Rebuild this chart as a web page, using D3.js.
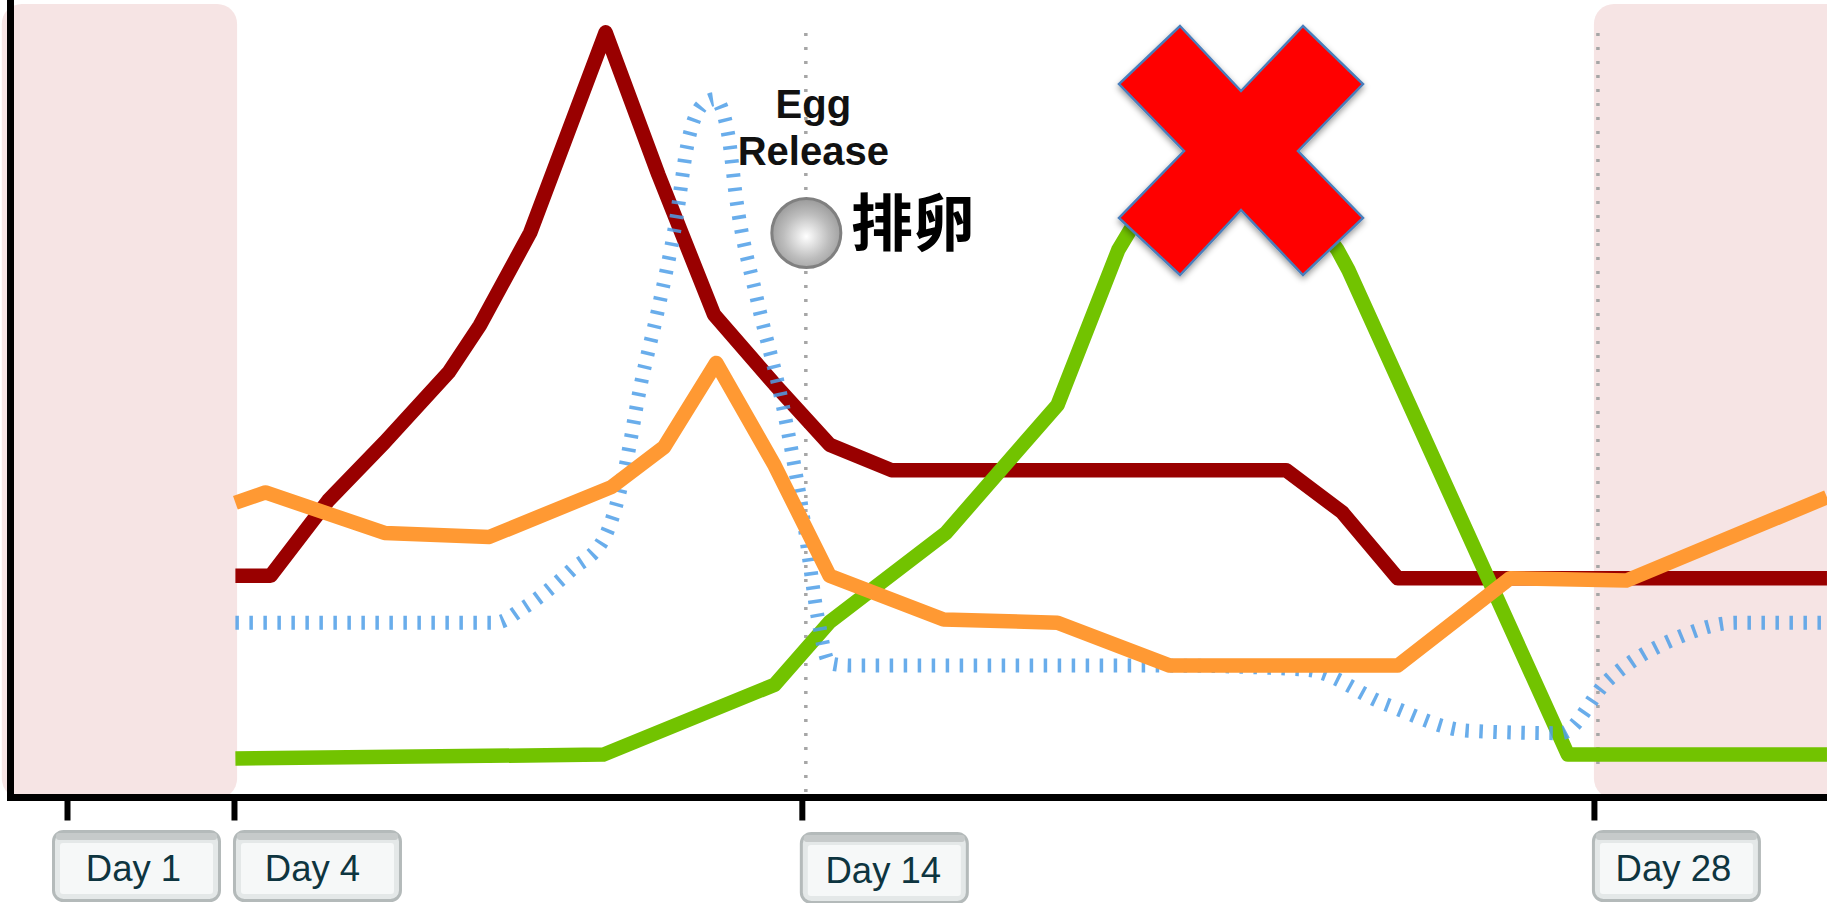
<!DOCTYPE html>
<html lang="zh">
<head>
<meta charset="utf-8">
<title>Hormone cycle</title>
<script src="https://cdn.jsdelivr.net/npm/d3@7"></script>
<style>
html,body{margin:0;padding:0;background:#fff;overflow:hidden}
svg{display:block}
</style>
</head>
<body>
<svg id="chart" width="1827" height="903"></svg>
<script>
// ---- data ----
const tickDays = [1, 3.945, 13.96, 27.93];
const tickLabels = ["Day 1", "Day 4", "Day 14", "Day 28"];
const periodBands = [[-0.15, 4.0], [27.93, 33]];

const redDays = [3.97,4.59,5.61,6.60,7.73,8.28,9.17,10.50,11.43,12.41,13.48,14.45,15.54,22.5,23.49,24.47,32.04];
const redLevels = [27.9,27.9,37.4,44.7,53.5,59.4,71.1,96.3,78.4,60.8,52.0,44.4,41.2,41.2,35.9,27.6,27.6];

const orangeDays = [3.97,4.50,6.60,8.45,10.61,11.53,12.45,13.48,14.45,16.46,18.47,20.45,24.47,26.45,28.50,32.04];
const orangeLevels = [37.1,38.4,33.3,32.8,39.1,44.1,54.7,41.8,27.9,22.4,22.0,16.6,16.6,27.6,27.3,37.8];

const greenDays = [3.97,10.46,13.48,14.45,16.50,18.47,19.54,19.85,21.08,22.21,23.41,23.60,27.47,32.04];
const greenLevels = [4.9,5.4,14.2,22.1,33.3,49.4,68.9,72.6,80.6,80.6,68.9,66.4,5.4,5.4];

const blueDays = [3.97,8.55,9.06,9.89,10.50,10.81,11.12,11.43,11.74,11.94,12.21,12.43,12.66,12.80,13.17,13.63,14.0,14.24,14.45,14.82,20.37,22.84,24.27,25.71,27.35,28.17,29.40,30.43,32.04];
const blueLevels = [22.0,22.0,23.9,28.6,33.0,40.3,52.0,61.6,72.6,82.1,87.2,87.9,83.5,75.5,62.7,49.1,34.5,22.7,16.9,16.6,16.6,16.1,11.7,8.4,8.1,14.7,20.1,22.0,22.0];

const eggLabel = ["Egg", "Release"];
const ovulationLabel = "排卵";

// ---- layout ----
const W = 1827, H = 903, axisY = 797.5, topY = 3;
const x = d3.scaleLinear().domain([0, 33]).range([10.3, 10.3 + 33 * 56.7]);
const y = d3.scaleLinear().domain([0, 100]).range([axisY, topY]);
const svg = d3.select("#chart");
const defs = svg.append("defs");

const ballGrad = defs.append("radialGradient").attr("id", "ball").attr("cx", "50%").attr("cy", "55%").attr("r", "55%");
ballGrad.append("stop").attr("offset", "0%").attr("stop-color", "#ffffff");
ballGrad.append("stop").attr("offset", "60%").attr("stop-color", "#bdbdbd");
ballGrad.append("stop").attr("offset", "100%").attr("stop-color", "#9a9a9a");

const blur = defs.append("filter").attr("id", "shadow").attr("x", "-10%").attr("y", "-10%").attr("width", "125%").attr("height", "125%");
blur.append("feDropShadow").attr("dx", 0).attr("dy", 3).attr("stdDeviation", 3).attr("flood-color", "#000").attr("flood-opacity", 0.4);

// pink period bands
svg.append("g").selectAll("rect").data(periodBands).join("rect")
  .attr("x", d => x(d[0])).attr("y", 4)
  .attr("width", d => x(d[1]) - x(d[0])).attr("height", axisY - 3)
  .attr("rx", 20).attr("ry", 20)
  .attr("fill", "#f6e4e4");

// dotted guide lines
svg.append("g").selectAll("line").data([tickDays[2], tickDays[3]]).join("line")
  .attr("x1", d => x(d) + 4).attr("x2", d => x(d) + 4)
  .attr("y1", 33).attr("y2", (d, i) => i ? 772 : 792)
  .attr("stroke", "#a6a6a6").attr("stroke-width", 3.5).attr("stroke-dasharray", "3 11");

// curves
const line = d3.line().x(d => x(d[0])).y(d => y(d[1])).curve(d3.curveLinear);
const smooth = d3.line().x(d => x(d[0])).y(d => y(d[1])).curve(d3.curveMonotoneX);
const zip = (a, b) => a.map((v, i) => [v, b[i]]);
const series = [
  {days: redDays, levels: redLevels, color: "#990000", gen: line, w: 14.5},
  {days: greenDays, levels: greenLevels, color: "#72c300", gen: line, w: 14.5},
  {days: blueDays, levels: blueLevels, color: "#4f9fe8", gen: smooth, w: 14, dash: "3.5 10.5", op: 0.85},
  {days: orangeDays, levels: orangeLevels, color: "#ff9933", gen: line, w: 14.5}
];
svg.append("g").selectAll("path").data(series).join("path")
  .attr("d", d => d.gen(zip(d.days, d.levels)))
  .attr("fill", "none")
  .attr("stroke", d => d.color)
  .attr("stroke-width", d => d.w)
  .attr("stroke-dasharray", d => d.dash || null)
  .attr("stroke-opacity", d => d.op || 1)
  .attr("stroke-linejoin", "round");

// axes
const xAxis = d3.axisBottom(x).tickValues(tickDays).tickSize(23).tickFormat("");
const gx = svg.append("g").attr("transform", `translate(0,${axisY})`).call(xAxis);
gx.select(".domain").attr("stroke", "#000").attr("stroke-width", 7).attr("d", `M7,0H${W}`);
gx.selectAll(".tick line").attr("stroke", "#000").attr("stroke-width", 6);
svg.append("line").attr("x1", 10.5).attr("x2", 10.5).attr("y1", 0).attr("y2", axisY + 3.5)
  .attr("stroke", "#000").attr("stroke-width", 7);

// tick label buttons
const boxW = 169, boxH = 72;
const labelGroups = svg.append("g").selectAll("g").data(tickDays).join("g")
  .attr("transform", (d, i) => `translate(${x(d) - [15, 1, 2, 2][i]},${[830, 830, 832, 830][i]})`);
labelGroups.append("rect").attr("x", 1.5).attr("y", 1.5).attr("width", boxW - 3).attr("height", boxH - 3)
  .attr("rx", 10).attr("fill", "#e4e8e8").attr("stroke", "#b4baba").attr("stroke-width", 3);
labelGroups.append("rect").attr("x", 4).attr("y", 3).attr("width", boxW - 8).attr("height", 7)
  .attr("rx", 3).attr("fill", "#c6caca");
labelGroups.append("rect").attr("x", 8).attr("y", 13).attr("width", boxW - 16).attr("height", boxH - 21)
  .attr("rx", 3).attr("fill", "#f6f8f8");
labelGroups.append("text")
  .attr("x", (d, i) => boxW / 2 + [-3, -5, -1, -3][i]).attr("y", 51).attr("text-anchor", "middle")
  .attr("font-family", "'Liberation Sans', sans-serif").attr("font-size", 36.5)
  .attr("fill", "#0e3540").text((d, i) => tickLabels[i]);

// ovulation marker
const ballX = x(tickDays[2]) + 4.5;
svg.append("circle").attr("cx", ballX).attr("cy", 233).attr("r", 34.5)
  .attr("fill", "url(#ball)").attr("stroke", "#808080").attr("stroke-width", 3);
svg.append("g").selectAll("text").data(eggLabel).join("text")
  .attr("x", ballX + 7).attr("y", (d, i) => 118 + i * 47).attr("text-anchor", "middle")
  .attr("font-family", "'Liberation Sans', sans-serif").attr("font-weight", 700).attr("font-size", 40)
  .attr("fill", "#111").text(d => d);
svg.append("text").attr("x", 851).attr("y", 246)
  .attr("font-family", "'Noto Sans CJK SC', sans-serif").attr("font-weight", 700).attr("font-size", 62)
  .attr("fill", "#000").text(ovulationLabel);

// big red cross over the green peak
const cross = d3.path();
[[-61,-125],[0,-60],[62,-125],[122,-67],[57,0],[122,67],[62,124],[0,59],[-61,124],[-122,67],[-57,0],[-122,-67]]
  .forEach((p, i) => i ? cross.lineTo(p[0], p[1]) : cross.moveTo(p[0], p[1]));
cross.closePath();
svg.append("path").attr("d", cross.toString())
  .attr("transform", "translate(1241,151)")
  .attr("fill", "#ff0000").attr("stroke", "#4a7ebb").attr("stroke-width", 2.5)
  .attr("filter", "url(#shadow)");
</script>
</body>
</html>
